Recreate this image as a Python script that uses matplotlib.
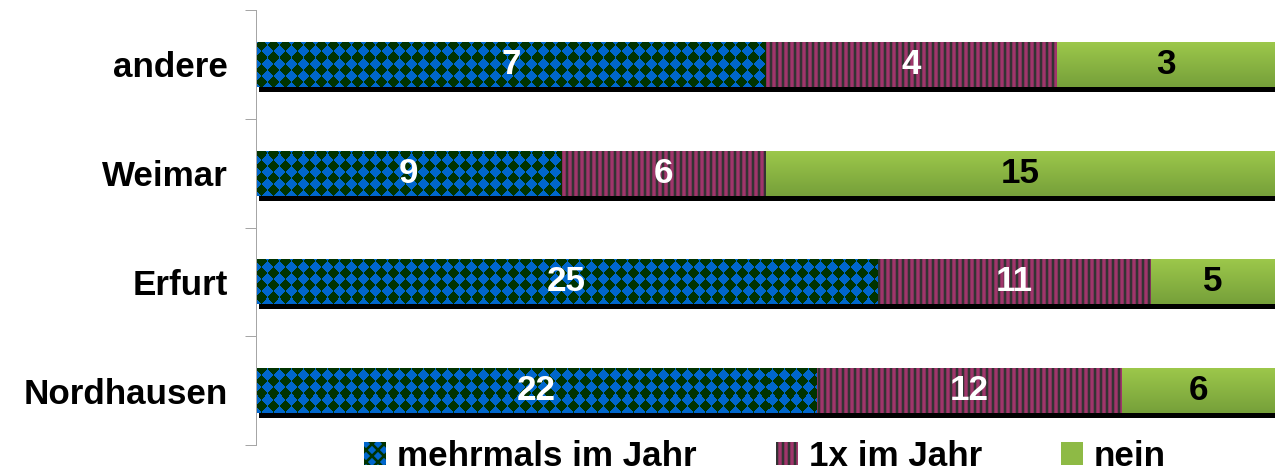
import numpy as np
import matplotlib
matplotlib.use("Agg")
import matplotlib.pyplot as plt
import matplotlib.transforms as mtransforms
from matplotlib.colors import LinearSegmentedColormap, ListedColormap

# data (bottom -> top)
staedte = ["Nordhausen", "Erfurt", "Weimar", "andere"]
mehrmals = [22, 25, 9, 7]
einmal = [12, 11, 6, 4]
nein = [6, 5, 15, 3]
serien = ["mehrmals im Jahr", "1x im Jahr", "nein"]

plt.rcParams["font.family"] = ["Liberation Sans", "DejaVu Sans"]
plt.rcParams["font.weight"] = "bold"
plt.rcParams["hatch.linewidth"] = 2.6

werte = np.array([mehrmals, einmal, nein], dtype=float)
summe = werte.sum(axis=0)
anteil = werte / summe

fig = plt.figure(figsize=(1275 / 72, 472 / 72), dpi=72)
ax = fig.add_axes([256 / 1275, 27 / 472, 1 - 256 / 1275, 435 / 472])

y = np.arange(len(staedte))
h = 0.414

# shadow under each full bar
schatten = mtransforms.offset_copy(ax.transData, fig=fig, x=3, y=-5, units="points")
ax.barh(y, np.ones(len(y)), height=h, color="black", linewidth=0,
        transform=schatten, zorder=1)

stile = [
    dict(facecolor="#0066CC", edgecolor="#003300", hatch="xx"),
    dict(facecolor="#A0356B", edgecolor="#333333", hatch="||"),
    dict(facecolor="#8EBA45", edgecolor="#8EBA45", hatch=None),
]
textfarbe = ["white", "white", "black"]
gruen = LinearSegmentedColormap.from_list("gruen", ["#76A03A", "#9DC84B"])

# diamond checkerboard texture for the first series (pixel sized)
W, H = 1019, 435
px, py = np.meshgrid(np.arange(W) + 0.5, np.arange(H) + 0.5)
karo = (np.floor((px + py) / 12) + np.floor((px - py) / 12)) % 2
karo_cmap = ListedColormap(["#003300", "#0066CC"])

links = np.zeros(len(y))
for i in range(3):
    bars = ax.barh(y, anteil[i], left=links, height=h, linewidth=0,
                   label=serien[i], zorder=2, **stile[i])
    for r in bars:
        if i == 0:
            im = ax.imshow(karo, cmap=karo_cmap, interpolation="nearest", aspect="auto",
                           extent=[0, 1, -0.5, len(staedte) - 0.5], zorder=2.1)
            im.set_clip_path(r)
        elif i == 2:
            im = ax.imshow(np.linspace(0, 1, 64).reshape(-1, 1), cmap=gruen, origin="lower",
                           aspect="auto", zorder=2.1,
                           extent=[r.get_x(), r.get_x() + r.get_width(),
                                   r.get_y(), r.get_y() + r.get_height()])
            im.set_clip_path(r)
    ax.bar_label(bars, labels=[str(int(v)) for v in werte[i]], label_type="center",
                 color=textfarbe[i], fontsize=35, fontweight="bold", zorder=5)
    links += anteil[i]

ax.set_xlim(0, 1)
ax.set_ylim(-0.5, len(staedte) - 0.5)
ax.set_yticks(y)
ax.set_yticklabels(staedte, fontsize=35, fontweight="bold")
ax.set_yticks(np.arange(len(staedte) + 1) - 0.5, minor=True)
ax.tick_params(axis="y", which="major", length=0, pad=28)
ax.tick_params(axis="y", which="minor", length=11, color="#A6A6A6", width=1)
ax.set_xticks([])
for s in ["top", "right", "bottom"]:
    ax.spines[s].set_visible(False)
ax.spines["left"].set_color("#A6A6A6")
ax.spines["left"].set_linewidth(1)

fig.legend(loc="center", bbox_to_anchor=(765 / 1275, 16 / 472), ncol=3, frameon=False,
           prop={"size": 35, "weight": "bold"}, handlelength=0.63, handleheight=0.63,
           handletextpad=0.32, columnspacing=2.25, borderpad=0, borderaxespad=0)

fig.savefig("out.png", dpi=72)
